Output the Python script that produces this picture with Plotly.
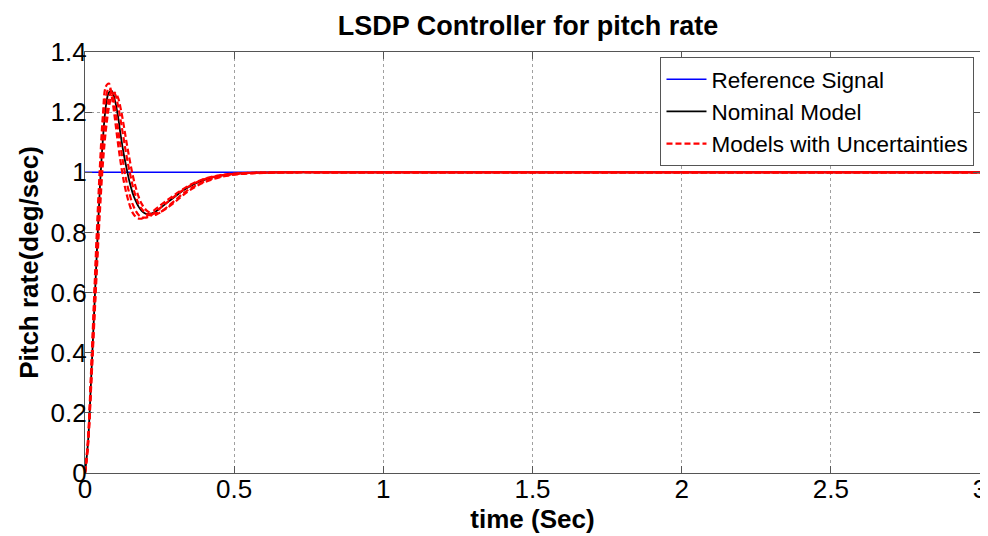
import plotly.graph_objects as go

# time samples (s)
t = [0, 0.01, 0.02, 0.03, 0.04, 0.05, 0.06, 0.07, 0.08, 0.09, 0.10, 0.11, 0.12,
     0.13, 0.14, 0.15, 0.16, 0.17, 0.18, 0.19, 0.20, 0.21, 0.22, 0.23, 0.24,
     0.25, 0.27, 0.30, 0.33, 0.36, 0.40, 0.45, 0.50, 0.55, 0.60, 0.70, 0.80,
     1.0, 3.0]

t_ref = [0, 3]
reference = [1, 1]

nominal = [0, 0.10, 0.30, 0.52, 0.74, 0.95, 1.11, 1.22, 1.265, 1.27, 1.24, 1.19,
           1.12, 1.06, 1.01, 0.965, 0.93, 0.905, 0.885, 0.872, 0.864, 0.861,
           0.862, 0.866, 0.872, 0.879, 0.895, 0.918, 0.94, 0.958, 0.975, 0.988,
           0.995, 0.998, 0.999, 1.0, 1.0, 1.0, 1.0]

unc_1 = [0, 0.11, 0.33, 0.57, 0.81, 1.02, 1.19, 1.285, 1.295, 1.25, 1.18, 1.10,
         1.03, 0.97, 0.925, 0.89, 0.865, 0.852, 0.846, 0.846, 0.85, 0.856,
         0.863, 0.872, 0.88, 0.888, 0.903, 0.925, 0.945, 0.962, 0.978, 0.99,
         0.996, 0.998, 0.999, 1.0, 1.0, 1.0, 1.0]

unc_2 = [0, 0.105, 0.31, 0.545, 0.77, 0.98, 1.15, 1.25, 1.28, 1.265, 1.22, 1.15,
         1.08, 1.02, 0.965, 0.925, 0.893, 0.872, 0.858, 0.851, 0.849, 0.851,
         0.856, 0.863, 0.871, 0.879, 0.896, 0.92, 0.942, 0.96, 0.977, 0.989,
         0.995, 0.998, 0.999, 1.0, 1.0, 1.0, 1.0]

unc_3 = [0, 0.095, 0.29, 0.50, 0.71, 0.91, 1.07, 1.18, 1.245, 1.27, 1.262, 1.225,
         1.17, 1.11, 1.05, 1.0, 0.955, 0.92, 0.895, 0.878, 0.867, 0.86, 0.857,
         0.857, 0.86, 0.865, 0.88, 0.905, 0.93, 0.95, 0.97, 0.985, 0.993,
         0.997, 0.999, 1.0, 1.0, 1.0, 1.0]

unc_4 = [0, 0.09, 0.275, 0.48, 0.68, 0.87, 1.03, 1.14, 1.215, 1.255, 1.265, 1.25,
         1.21, 1.155, 1.095, 1.04, 0.99, 0.95, 0.918, 0.895, 0.88, 0.87, 0.865,
         0.863, 0.864, 0.867, 0.878, 0.90, 0.925, 0.946, 0.967, 0.983, 0.992,
         0.996, 0.998, 1.0, 1.0, 1.0, 1.0]

uncertain = [unc_1, unc_2, unc_3, unc_4]

FONT = "Liberation Sans, Arial, sans-serif"

fig = go.Figure()
fig.add_trace(go.Scatter(x=t_ref, y=reference, mode="lines",
                         name="Reference Signal",
                         line=dict(color="#0000ff", width=1.5)))
fig.add_trace(go.Scatter(x=t, y=nominal, mode="lines", name="Nominal Model",
                         line=dict(color="black", width=1.8, shape="spline")))
for i, u in enumerate(uncertain):
    fig.add_trace(go.Scatter(x=t, y=u, mode="lines",
                             name="Models with Uncertainties",
                             showlegend=(i == 0),
                             line=dict(color="#ff0000", width=2.2,
                                       dash="6px,3px", shape="spline")))

axis_common = dict(
    showline=True, linecolor="#555555", linewidth=1.2, mirror="ticks",
    ticks="inside", ticklen=7, tickcolor="#555555",
    showgrid=True, gridcolor="#a0a0a0", griddash="dot", gridwidth=1,
    zeroline=False, tickfont=dict(family=FONT, size=26, color="black"),
)

# page has an 8px body margin, so the figure is 980x528 and margins are trimmed
fig.update_layout(
    width=980, height=528,
    margin=dict(l=77, r=8, t=44, b=63, autoexpand=False),
    paper_bgcolor="white", plot_bgcolor="white",
    font=dict(family=FONT, color="black"),
    title=dict(text="<b>LSDP Controller for pitch rate</b>",
               font=dict(family=FONT, size=27, color="black"),
               x=0.495, xanchor="center", y=0.966, yanchor="middle",
               xref="paper", yref="container"),
    xaxis=dict(range=[0, 3], tickvals=[0, 0.5, 1, 1.5, 2, 2.5, 3],
               ticklabelstandoff=-7,
               title=dict(text="<b>time (Sec)</b>", standoff=0,
                          font=dict(family=FONT, size=26)),
               automargin=False, **axis_common),
    yaxis=dict(range=[0, 1.4], tickvals=[0, 0.2, 0.4, 0.6, 0.8, 1, 1.2, 1.4],
               ticklabelstandoff=-8,
               title=dict(text="<b>Pitch rate(deg/sec)</b>", standoff=4,
                          font=dict(family=FONT, size=26)),
               automargin=False, **axis_common),
    legend=dict(x=0.643, y=0.988, xanchor="left", yanchor="top",
                bgcolor="white", bordercolor="#555555", borderwidth=1,
                font=dict(family=FONT, size=22.5, color="black"),
                tracegroupgap=0, itemwidth=40),
    showlegend=True,
)

fig.write_html("out.html")
